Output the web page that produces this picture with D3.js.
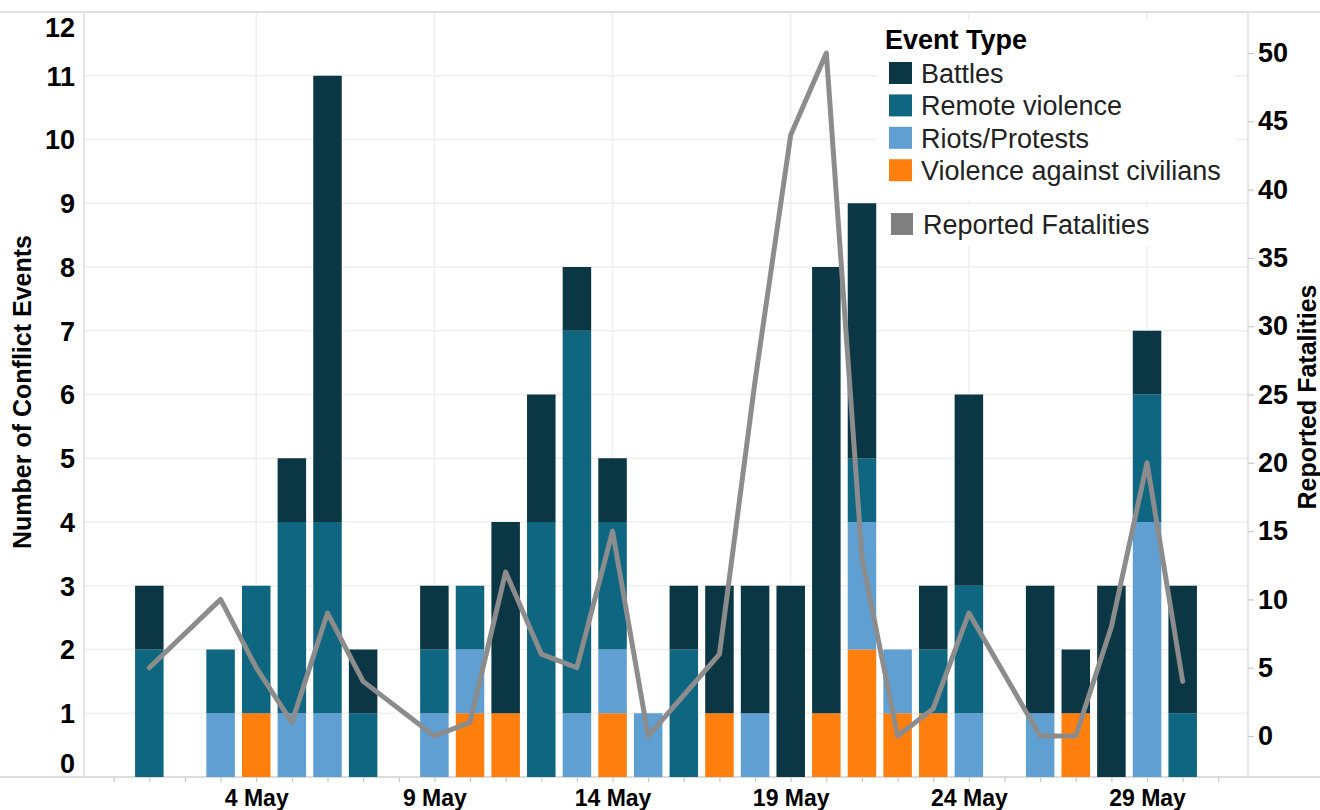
<!DOCTYPE html>
<html>
<head>
<meta charset="utf-8">
<script src="https://cdn.jsdelivr.net/npm/d3@7"></script>
<style>
  body { margin: 0; background: #fff; }
  svg { display: block; font-family: "Liberation Sans", Arial, sans-serif; }
  .grid line { stroke: #efefef; stroke-width: 1.5; }
  .tick-label { font-weight: bold; font-size: 27px; fill: #000; }
  .x-label { font-weight: bold; font-size: 23px; fill: #000; }
  .axis-title { font-weight: bold; font-size: 25px; fill: #000; }
  .legend text { font-size: 27px; fill: #222; }
</style>
</head>
<body>
<div id="chart"></div>
<script>
// day of May
const days = d3.range(1, 32);
// events per day, by type
const battles   = [1, 0, 0, 0, 1, 7, 1, 0, 1, 0, 3, 2, 1, 1, 0, 1, 2, 2, 3, 7, 4, 0, 1, 3, 0, 2, 1, 3, 1, 2, 0];
const remote    = [2, 0, 1, 2, 3, 3, 1, 0, 1, 1, 0, 4, 6, 2, 0, 2, 0, 0, 0, 0, 1, 0, 1, 2, 0, 0, 0, 0, 2, 1, 0];
const riots     = [0, 0, 1, 0, 1, 1, 0, 0, 1, 1, 0, 0, 1, 1, 1, 0, 0, 1, 0, 0, 2, 1, 0, 1, 0, 1, 0, 0, 4, 0, 0];
const civilians = [0, 0, 0, 1, 0, 0, 0, 0, 0, 1, 1, 0, 0, 1, 0, 0, 1, 0, 0, 1, 2, 1, 1, 0, 0, 0, 1, 0, 0, 0, 0];
// reported fatalities (null = no record that day)
const fatalities = [5, null, 10, 5, 1, 9, 4, null, 0, 1, 12, 6, 5, 15, 0, 3, 6, 26, 44, 50, 13, 0, 2, 9, null, 0, 0, 8, 20, 4, null];

const eventTypes = ['Battles', 'Remote violence', 'Riots/Protests', 'Violence against civilians'];
const leftTicks = d3.range(0, 13);
const rightTicks = d3.range(0, 51, 5);
const labelDays = [4, 9, 14, 19, 24, 29];

const colors = {
    'Battles': '#0b3745',
    'Remote violence': '#0f6680',
    'Riots/Protests': '#5f9fd2',
    'Violence against civilians': '#ff7f0e'
};

const W = 1320, H = 810;
const plot = { left: 84, right: 1248, top: 12, bottom: 777 };

const day = d => new Date(Date.UTC(2016, 4, d));

// stack bottom -> top: civilians, riots, remote, battles
const rows = days.map((d, i) => ({
    date: day(d),
    'Battles': battles[i],
    'Remote violence': remote[i],
    'Riots/Protests': riots[i],
    'Violence against civilians': civilians[i]
}));
const stackOrder = ['Violence against civilians', 'Riots/Protests', 'Remote violence', 'Battles'];
const series = d3.stack().keys(stackOrder)(rows);

const x = d3.scaleUtc()
    .domain([d3.utcHour.offset(day(0), -20), d3.utcHour.offset(day(31), 20.5)])
    .range([plot.left, plot.right]);

const y = d3.scaleLinear().domain([0, 12]).range([plot.bottom, plot.top]);
const y2 = d3.scaleLinear().domain([-3, 53]).range([plot.bottom, plot.top]);

const dayW = x(day(2)) - x(day(1));
const barW = dayW * 0.8;

const svg = d3.select('#chart')
    .append('svg')
    .attr('width', W)
    .attr('height', H);

// horizontal grid
svg.append('g')
    .attr('class', 'grid')
    .selectAll('line')
    .data(leftTicks.slice(1))
    .enter()
    .append('line')
    .attr('x1', plot.left).attr('x2', plot.right)
    .attr('y1', d => y(d)).attr('y2', d => y(d));

// vertical grid
svg.append('g')
    .attr('class', 'grid')
    .selectAll('line')
    .data(labelDays)
    .enter()
    .append('line')
    .attr('x1', d => x(day(d))).attr('x2', d => x(day(d)))
    .attr('y1', plot.top).attr('y2', plot.bottom);

// frame lines
svg.append('line').attr('x1', 0).attr('x2', W).attr('y1', plot.top).attr('y2', plot.top)
    .attr('stroke', '#d9d9d9').attr('stroke-width', 1.5);
svg.append('line').attr('x1', 0).attr('x2', W).attr('y1', plot.bottom).attr('y2', plot.bottom)
    .attr('stroke', '#d0d0d0').attr('stroke-width', 1.5);
svg.append('line').attr('x1', plot.left).attr('x2', plot.left).attr('y1', plot.top).attr('y2', plot.bottom)
    .attr('stroke', '#dcdcdc').attr('stroke-width', 1.5);
svg.append('line').attr('x1', plot.right).attr('x2', plot.right).attr('y1', plot.top).attr('y2', plot.bottom)
    .attr('stroke', '#dcdcdc').attr('stroke-width', 1.5);

// legend background (drawn under the bars)
const legend = svg.append('g').attr('class', 'legend');
legend.append('rect')
    .attr('x', 877).attr('y', 20).attr('width', 358).attr('height', 180)
    .attr('fill', '#fff');
legend.append('rect')
    .attr('x', 877).attr('y', 206).attr('width', 358).attr('height', 40)
    .attr('fill', '#fff');

// bars
svg.append('g')
    .selectAll('g')
    .data(series)
    .enter()
    .append('g')
    .attr('fill', s => colors[s.key])
    .selectAll('rect')
    .data(s => s.filter(d => d[1] > d[0]))
    .enter()
    .append('rect')
    .attr('x', d => x(d.data.date) - barW / 2)
    .attr('width', barW)
    .attr('y', d => y(d[1]))
    .attr('height', d => y(d[0]) - y(d[1]));

// fatalities line
const lineData = days.map((d, i) => ({ date: day(d), v: fatalities[i] }))
    .filter(d => d.v !== null);

const line = d3.line()
    .x(d => x(d.date))
    .y(d => y2(d.v));

svg.append('path')
    .datum(lineData)
    .attr('d', line)
    .attr('fill', 'none')
    .attr('stroke', '#8c8c8c')
    .attr('stroke-width', 5)
    .attr('stroke-linejoin', 'round')
    .attr('stroke-linecap', 'round');

// x axis
const xAxis = d3.axisBottom(x)
    .tickValues(d3.range(0, 32).map(day))
    .tickSize(5)
    .tickFormat(d => labelDays.includes(d.getUTCDate()) && d.getUTCMonth() === 4 ? d.getUTCDate() + ' May' : '');

const gx = svg.append('g')
    .attr('transform', `translate(0,${plot.bottom})`)
    .call(xAxis);
gx.select('.domain').remove();
gx.selectAll('.tick line').attr('stroke', '#c8c8c8').attr('stroke-width', 1.2);
gx.selectAll('.tick text')
    .attr('class', 'x-label')
    .attr('y', 29)
    .attr('dy', 0);

// left axis
const yAxis = d3.axisLeft(y).tickValues(leftTicks).tickSize(0).tickPadding(9);
const gy = svg.append('g')
    .attr('transform', `translate(${plot.left},0)`)
    .call(yAxis);
gy.select('.domain').remove();
gy.selectAll('.tick text')
    .attr('class', 'tick-label')
    .attr('dy', d => d === 12 ? '0.9em' : d === 0 ? '-0.15em' : '0.35em');

// right axis
const y2Axis = d3.axisRight(y2).tickValues(rightTicks).tickSize(6).tickPadding(4);
const gy2 = svg.append('g')
    .attr('transform', `translate(${plot.right},0)`)
    .call(y2Axis);
gy2.select('.domain').remove();
gy2.selectAll('.tick line').attr('stroke', '#c8c8c8').attr('stroke-width', 1.2);
gy2.selectAll('.tick text').attr('class', 'tick-label');

// axis titles
svg.append('text')
    .attr('class', 'axis-title')
    .attr('text-anchor', 'middle')
    .attr('transform', 'rotate(-90)')
    .attr('x', -392)
    .attr('y', 31)
    .text('Number of Conflict Events');

svg.append('text')
    .attr('class', 'axis-title')
    .attr('text-anchor', 'middle')
    .attr('transform', 'rotate(-90)')
    .attr('x', -397)
    .attr('y', 1316)
    .text('Reported Fatalities');

// legend entries
const legendTop = svg.append('g').attr('class', 'legend');

legendTop.append('text')
    .attr('x', 885)
    .attr('y', 49)
    .attr('font-weight', 'bold')
    .style('fill', '#000')
    .text('Event Type');

const items = legendTop.selectAll('.item')
    .data(eventTypes)
    .enter()
    .append('g')
    .attr('class', 'item')
    .attr('transform', (d, i) => `translate(889,${73 + i * 32.4})`);

items.append('rect')
    .attr('x', 0).attr('y', -11)
    .attr('width', 23).attr('height', 22)
    .attr('fill', d => colors[d]);

items.append('text')
    .attr('x', 32)
    .attr('y', 10)
    .text(d => d);

legendTop.append('rect')
    .attr('x', 891).attr('y', 213)
    .attr('width', 22).attr('height', 22)
    .attr('fill', '#808080');

legendTop.append('text')
    .attr('x', 923)
    .attr('y', 234)
    .text('Reported Fatalities');
</script>
</body>
</html>
